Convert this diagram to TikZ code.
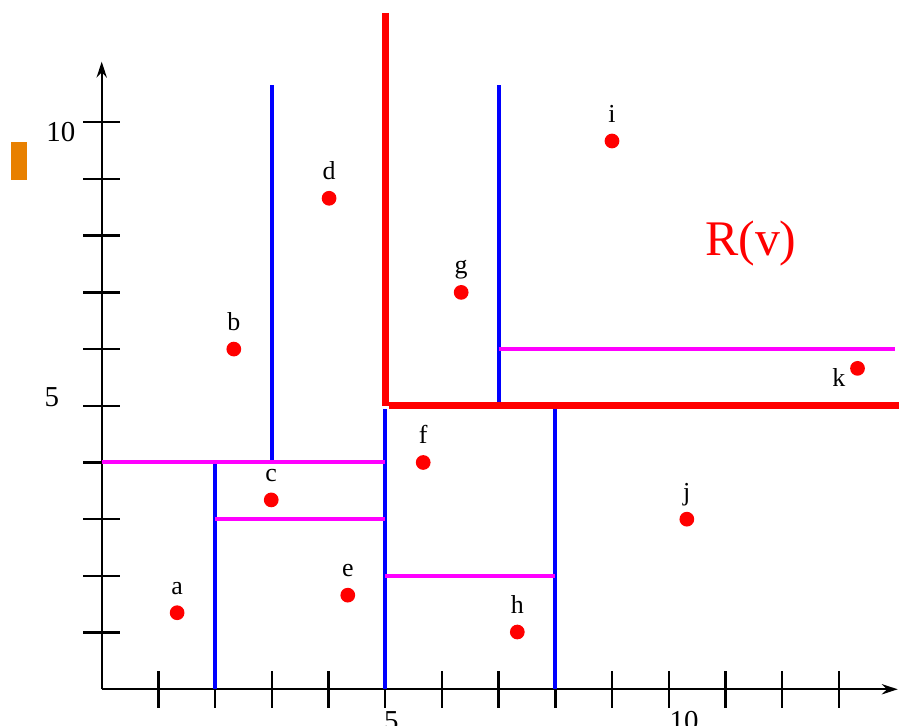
\documentclass[tikz,border=0pt]{standalone}
\usepackage{fontspec}
\setmainfont{Liberation Serif}
\usetikzlibrary{arrows.meta}
\definecolor{myorange}{RGB}{232,128,0}
\definecolor{mymagenta}{RGB}{255,0,255}
\definecolor{myred}{RGB}{255,0,0}
\definecolor{myblue}{RGB}{0,0,255}
\begin{document}
\begin{tikzpicture}[
  axis/.style={line width=1.2pt, black},
  tick/.style={line width=1.2pt, black},
  vsplit/.style={line width=2pt, myblue},
  hsplit/.style={line width=2pt, mymagenta},
  region/.style={line width=3.4pt, myred},
  pt/.style={circle, fill=myred, inner sep=0pt, minimum size=0.26cm},
  lbl/.style={font=\fontsize{13}{15}\selectfont, anchor=base, inner sep=0pt},
  num/.style={font=\fontsize{14.5}{17}\selectfont, inner sep=0pt}
]
\useasboundingbox (-1.794,-0.647) rectangle (14.062,12.157);
% orange marker
\fill[myorange] (-1.60,8.99) rectangle (-1.32,9.65);
% axes
\draw[axis,-{Stealth[length=0.28cm,width=0.18cm]}] (0,0) -- (14.04,0);
\draw[axis,-{Stealth[length=0.28cm,width=0.18cm]}] (0,0) -- (0,11.07);
\foreach \i in {1,...,13} \draw[tick] (\i,-0.33) -- (\i,0.33);
\foreach \i in {1,...,10} \draw[tick] (-0.33,\i) -- (0.33,\i);
\node[num] (x5) at (5.11,-0.56) {5};
\node[num] (x10) at (10.27,-0.56) {10};
\node[num] (y5) at (-0.88,5.16) {5};
\node[num] (y10) at (-0.72,9.83) {10};
% blue vertical splits
\draw[vsplit] (2,0) -- (2,4);
\draw[vsplit] (3,4) -- (3,10.66);
\draw[vsplit] (5,0) -- (5,4.95);
\draw[vsplit] (7,5.07) -- (7,10.66);
\draw[vsplit] (8,0) -- (8,4.95);
% magenta horizontal splits
\draw[hsplit] (0,4) -- (5,4);
\draw[hsplit] (2,3) -- (5,3);
\draw[hsplit] (5,2) -- (8,2);
\draw[hsplit] (7,6) -- (14.0,6);
% region R(v)
\draw[region] (5,11.93) -- (5,5.0);
\draw[region] (5.07,5) -- (14.1,5);
\node[text=myred, font=\fontsize{25}{28}\selectfont, inner sep=0pt] (rv) at (11.45,7.87) {R(v)};
% points
\node[pt] (a) at (1.33,1.35) {};
\node[pt] (b) at (2.33,6.0) {};
\node[pt] (c) at (2.99,3.34) {};
\node[pt] (d) at (4.01,8.66) {};
\node[pt] (e) at (4.34,1.66) {};
\node[pt] (f) at (5.67,4.0) {};
\node[pt] (g) at (6.34,7.0) {};
\node[pt] (h) at (7.33,1.01) {};
\node[pt] (i) at (9.0,9.67) {};
\node[pt] (j) at (10.32,3.0) {};
\node[pt] (k) at (13.33,5.66) {};
% labels
\foreach \p in {a,b,c,d,e,f,g,h,i,j}
  \node[lbl] (l\p) at ([yshift=0.33cm]\p.center) {\p};
\node[lbl] (lk) at (13.0,5.34) {k};
\end{tikzpicture}
\end{document}
